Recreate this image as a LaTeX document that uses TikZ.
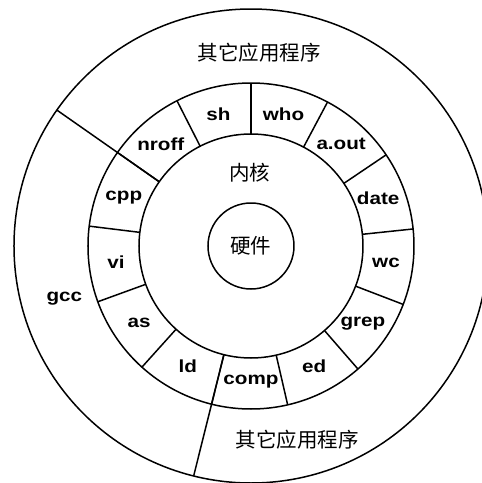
\documentclass[tikz,border=0pt]{standalone}
\usepackage{fontspec}
\setmainfont{Liberation Sans}
\newfontfamily\zhfont{Noto Sans CJK SC}
\newfontfamily\progfont{Liberation Sans}[FakeStretch=1.18]
\usetikzlibrary{positioning}
\usetikzlibrary{calc}

\begin{document}
\begin{tikzpicture}[x=1pt, y=1pt, line width=1.5pt,
                    band/.style={draw, circle, inner sep=0pt, outer sep=0pt, minimum size=#1},
                    prog/.style={inner sep=0pt, font=\progfont\bfseries\fontsize{17.5}{17.5}\selectfont},
                    zh/.style={inner sep=0pt, font=\zhfont\fontsize{20.5}{20.5}\selectfont}]

    \clip (-251,-237) rectangle (231,246);

    % layers, from the outside in
    \node[band=474pt] (apps) at (0,0) {};
    \node[band=326pt] (shell) at (0,0) {};
    \node[band=224pt] (kernel) at (0,0) {};
    \node[band=86pt, zh] (hw) at (0,0) {硬件};

    % thirteen programs round the kernel
    \foreach \k in {0,...,12} {
        \pgfmathsetmacro{\a}{90+\k*360/13}
        \draw (kernel.\a) -- (shell.\a);
    }
    \foreach \k in {2,6} {
        \pgfmathsetmacro{\a}{90+\k*360/13}
        \draw (kernel.\a) -- (apps.\a);
    }
    \foreach \p [count=\i] in {sh,nroff,cpp,vi,as,ld,comp,ed,grep,wc,date,a.out,who} {
        \pgfmathsetmacro{\a}{90+(\i-0.5)*360/13}
        \node[prog] (p\i) at (\a:136) {\p};
    }

    \node[zh] (kname) at (-1,73) {内核};
    \node[zh] (topapps) at (8.5,193) {其它应用程序};
    \node[zh] (botapps) at (46.5,-194) {其它应用程序};
    \node[prog] (gcc) at (-186.7,-52.3) {gcc};
\end{tikzpicture}
\end{document}
